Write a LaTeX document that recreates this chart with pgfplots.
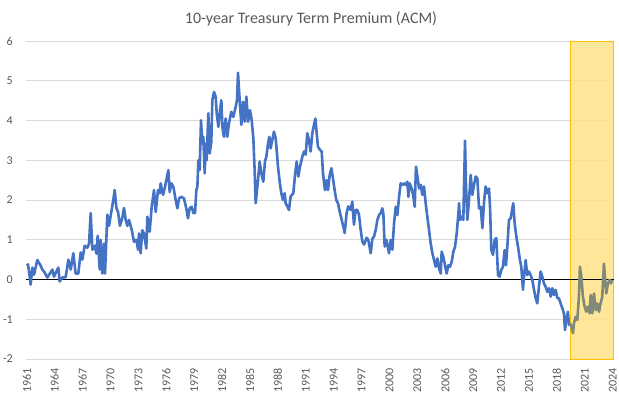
\documentclass[border=0pt]{standalone}
\usepackage{fontspec}
\setmainfont{Carlito}
\usepackage{pgfplots}
\pgfplotsset{compat=1.18}
\definecolor{lineblue}{HTML}{4472C4}
\definecolor{linegray}{HTML}{838978}
\definecolor{rectfill}{RGB}{255,226,135}
\definecolor{rectedge}{HTML}{FFC000}
\definecolor{gridgray}{HTML}{D9D9D9}
\definecolor{txtgray}{HTML}{595959}

\pgfplotstableread{
x y
1961.00 0.35
1961.13 0.38
1961.27 0.15
1961.41 -0.13
1961.60 0.30
1961.77 0.12
1962.13 0.49
1962.49 0.35
1962.67 0.25
1962.85 0.20
1963.21 0.05
1963.75 0.25
1963.92 0.07
1964.39 0.30
1964.53 -0.05
1964.82 0.05
1965.18 0.06
1965.47 0.50
1965.72 0.25
1966.00 0.66
1966.25 0.15
1966.54 0.15
1966.79 0.68
1966.97 0.50
1967.22 0.85
1967.51 0.80
1967.69 0.90
1967.87 1.67
1968.05 0.75
1968.33 0.85
1968.48 0.65
1968.62 1.10
1968.84 0.25
1968.94 1.00
1969.12 0.15
1969.30 0.90
1969.41 0.15
1969.55 1.00
1969.66 1.63
1969.84 1.35
1970.12 1.75
1970.30 2.00
1970.45 2.25
1970.63 1.80
1970.81 1.70
1971.02 1.35
1971.27 1.55
1971.45 1.80
1971.63 1.50
1971.81 1.35
1971.99 1.50
1972.28 1.25
1972.53 0.95
1972.78 1.00
1972.96 0.75
1973.07 1.16
1973.24 0.66
1973.42 1.24
1973.60 1.16
1973.85 0.78
1973.96 1.58
1974.21 1.20
1974.43 1.83
1974.68 2.25
1974.86 1.70
1975.11 2.25
1975.29 2.17
1975.39 2.42
1975.65 2.13
1975.86 2.33
1976.11 2.63
1976.22 2.75
1976.36 2.20
1976.54 2.42
1976.76 2.33
1977.01 2.00
1977.19 1.79
1977.37 2.04
1977.62 2.08
1977.90 2.04
1978.15 1.79
1978.33 1.54
1978.51 1.79
1978.73 1.83
1978.91 1.67
1979.09 1.67
1979.23 2.25
1979.34 2.33
1979.45 3.00
1979.59 2.75
1979.73 4.01
1979.88 3.42
1979.98 3.59
1980.13 2.67
1980.23 3.42
1980.34 3.00
1980.52 4.18
1980.66 3.17
1980.84 3.46
1980.95 4.51
1981.13 4.72
1981.31 4.60
1981.42 4.18
1981.60 3.84
1981.78 4.26
1981.92 4.51
1982.03 3.84
1982.20 3.59
1982.38 4.05
1982.56 3.59
1982.74 3.93
1982.99 4.22
1983.21 4.09
1983.46 4.34
1983.60 4.51
1983.71 5.20
1983.89 4.51
1984.07 3.89
1984.25 4.47
1984.43 3.97
1984.61 4.60
1984.79 3.97
1985.00 4.26
1985.18 4.01
1985.36 3.55
1985.50 2.75
1985.61 1.92
1985.72 2.17
1985.86 2.50
1986.04 2.97
1986.22 2.67
1986.43 2.46
1986.61 2.97
1986.76 3.09
1986.94 3.42
1987.08 3.59
1987.22 3.30
1987.40 3.51
1987.58 3.72
1987.76 3.55
1987.87 3.26
1988.01 2.84
1988.19 2.46
1988.37 2.17
1988.55 2.00
1988.73 2.17
1988.83 1.92
1989.01 1.84
1989.19 1.75
1989.37 2.09
1989.66 2.17
1989.84 2.63
1990.02 2.97
1990.20 2.59
1990.38 2.84
1990.63 3.09
1990.81 3.22
1990.99 3.14
1991.16 3.68
1991.34 3.51
1991.52 3.22
1991.70 3.68
1991.88 3.89
1992.03 4.05
1992.17 3.68
1992.31 3.34
1992.53 3.26
1992.71 3.22
1992.85 2.67
1993.06 2.25
1993.24 2.50
1993.39 2.25
1993.57 2.63
1993.75 2.80
1993.92 2.55
1994.10 2.25
1994.28 2.00
1994.46 1.92
1994.68 1.67
1994.86 1.50
1995.04 1.33
1995.18 1.17
1995.39 1.67
1995.57 1.84
1995.82 1.75
1996.00 1.96
1996.18 1.38
1996.36 1.75
1996.54 1.75
1996.72 1.63
1996.90 1.25
1997.08 0.96
1997.26 0.88
1997.54 1.05
1997.72 1.00
1997.98 0.66
1998.16 1.03
1998.34 1.08
1998.52 1.25
1998.70 1.50
1998.88 1.62
1999.05 1.67
1999.23 1.79
1999.34 1.67
1999.48 0.83
1999.66 1.00
1999.84 0.79
1999.95 0.66
2000.13 1.00
2000.31 0.75
2000.49 1.41
2000.67 1.83
2000.85 1.62
2001.03 2.08
2001.20 2.42
2001.38 2.38
2001.56 2.42
2001.74 2.38
2001.92 2.46
2002.03 2.08
2002.17 2.42
2002.39 2.29
2002.57 2.08
2002.71 1.83
2002.85 2.84
2003.00 2.59
2003.18 2.29
2003.36 2.38
2003.53 2.13
2003.71 2.34
2003.89 1.92
2004.07 1.58
2004.25 1.25
2004.43 0.91
2004.61 0.66
2004.79 0.49
2004.97 0.32
2005.15 0.53
2005.33 0.28
2005.51 0.15
2005.61 0.70
2005.79 0.57
2005.97 0.36
2006.15 0.15
2006.33 0.36
2006.51 0.32
2006.69 0.45
2006.87 0.70
2007.05 0.83
2007.23 1.16
2007.41 1.67
2007.48 1.92
2007.58 1.50
2007.76 1.58
2007.94 1.50
2008.12 3.49
2008.23 2.34
2008.37 1.50
2008.55 2.00
2008.73 2.63
2008.91 2.13
2009.09 2.38
2009.27 2.59
2009.45 2.54
2009.63 1.79
2009.81 1.83
2009.99 1.29
2010.17 1.96
2010.34 2.34
2010.52 2.17
2010.70 2.29
2010.81 1.83
2010.95 0.74
2011.13 0.62
2011.31 1.00
2011.49 1.04
2011.67 0.11
2011.84 0.07
2012.02 0.24
2012.20 0.32
2012.38 0.74
2012.53 0.36
2012.67 0.83
2012.85 1.50
2013.03 1.54
2013.21 1.79
2013.31 1.92
2013.46 1.41
2013.64 1.08
2013.82 0.83
2014.00 0.53
2014.17 0.32
2014.35 -0.26
2014.46 0.07
2014.64 0.49
2014.82 0.11
2015.00 0.20
2015.18 0.11
2015.36 -0.01
2015.54 -0.26
2015.72 -0.47
2015.89 -0.60
2016.07 -0.18
2016.25 0.20
2016.43 0.07
2016.61 -0.10
2016.79 -0.18
2016.97 -0.31
2017.15 -0.22
2017.33 -0.43
2017.51 -0.22
2017.69 -0.39
2017.87 -0.26
2018.05 -0.47
2018.22 -0.47
2018.40 -0.60
2018.58 -0.72
2018.76 -0.85
2018.87 -1.27
2019.01 -1.02
2019.19 -0.81
2019.30 -1.14
2019.43 -1.10
}\bluedata

\pgfplotstableread{
x y
2019.43 -1.10
2019.55 -1.18
2019.73 -1.35
2019.84 -1.10
2020.02 -0.94
2020.20 -1.02
2020.37 -0.43
2020.48 0.32
2020.63 0.07
2020.80 -0.43
2020.98 -0.68
2021.16 -0.81
2021.34 -0.68
2021.52 -0.85
2021.63 -0.39
2021.81 -0.85
2021.99 -0.35
2022.17 -0.77
2022.35 -0.60
2022.53 -0.81
2022.70 -0.60
2022.88 -0.43
2023.06 0.40
2023.17 0.07
2023.31 -0.35
2023.49 -0.10
2023.67 -0.01
2023.82 -0.10
2023.92 -0.01
}\graydata

\begin{document}
\begin{tikzpicture}
\begin{axis}[
  at={(25.6pt,38pt)}, anchor=south west,
  scale only axis, width=588pt, height=318pt,
  xmin=1960.87, xmax=2024.1, ymin=-2, ymax=6,
  axis line style={draw=none},
  ytick={-2,-1,...,6},
  xtick={1961,1964,...,2024},
  ymajorgrids, grid style={gridgray, line width=0.75pt},
  major tick length=0pt,
  /pgf/number format/assume math mode=true,
  /pgf/number format/1000 sep={},
  tick label style={font=\fontsize{12}{14}\selectfont, text=txtgray, inner sep=0pt},
  x tick label style={rotate=90, anchor=east},
  y tick label style={anchor=east},
  xticklabel shift=9pt,
  yticklabel shift=12.6pt,
  clip=false,
]
\fill[rectfill, fill opacity=0.85] (axis cs:2019.43,-2) rectangle (axis cs:2024.1,6);
\draw[rectedge, line width=1pt] (axis cs:2019.43,-2) rectangle (axis cs:2024.1,6);
\draw[black, line width=0.9pt] (axis cs:1960.87,0) -- (axis cs:2024.1,0);
\addplot[lineblue, line width=2.6pt, line join=round, mark=none] table[x=x,y=y] {\bluedata};
\addplot[linegray, line width=2.6pt, line join=round, mark=none] table[x=x,y=y] {\graydata};
\end{axis}
\node[text=txtgray, font=\fontsize{16}{19}\selectfont] at (311pt,378pt) {10-year Treasury Term Premium (ACM)};
\path (0,0) rectangle (619pt,397pt);
\end{tikzpicture}
\end{document}
